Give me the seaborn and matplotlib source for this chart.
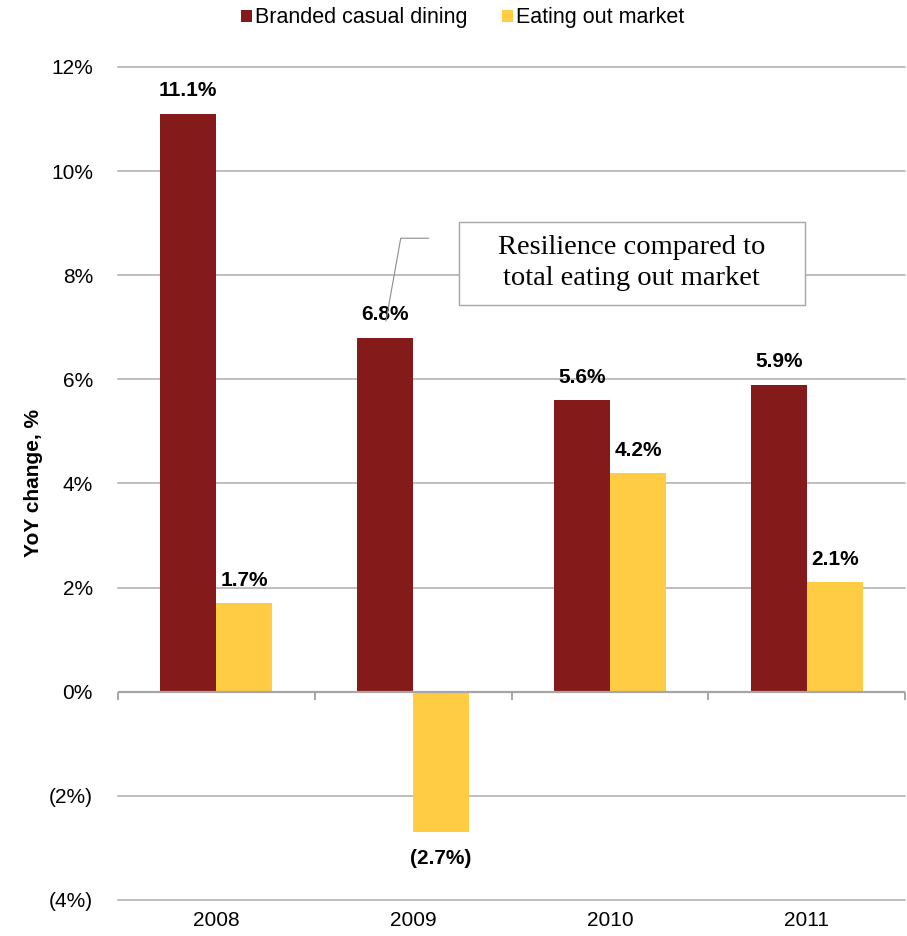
import matplotlib
matplotlib.use("Agg")
import matplotlib.pyplot as plt
from matplotlib.patches import Patch, Rectangle
import seaborn as sns
import pandas as pd

years = ["2008", "2009", "2010", "2011"]
branded = [11.1, 6.8, 5.6, 5.9]
eating_out = [1.7, -2.7, 4.2, 2.1]
series_names = ["Branded casual dining", "Eating out market"]
y_ticks = [-4, -2, 0, 2, 4, 6, 8, 10, 12]
y_tick_labels = ["(4%)", "(2%)", "0%", "2%", "4%", "6%", "8%", "10%", "12%"]

RED = "#841A1A"
YELLOW = "#FFCC44"
GRID = "#BFBFBF"
AXIS = "#A6A6A6"

sns.set_theme(style="white")
plt.rcParams["font.family"] = ["Liberation Sans", "DejaVu Sans"]
plt.rcParams["text.color"] = "black"
plt.rcParams["xtick.color"] = "black"
plt.rcParams["ytick.color"] = "black"
plt.rcParams["axes.labelcolor"] = "black"

df = pd.DataFrame({
    "year": years * 2,
    "value": branded + eating_out,
    "series": [series_names[0]] * len(years) + [series_names[1]] * len(years),
})

fig = plt.figure(figsize=(9.07, 9.36), dpi=100)
ax = fig.add_axes([0.130, 0.0385, 0.868, 0.8900])

sns.barplot(data=df, x="year", y="value", hue="series", order=years,
            hue_order=series_names, palette=[RED, YELLOW], width=0.57,
            gap=0, saturation=1, legend=False, ax=ax, zorder=3,
            linewidth=0, edgecolor="none")

ax.set_ylim(-4, 12)
ax.set_xlim(-0.5, len(years) - 0.5)
ax.set_yticks(y_ticks)
ax.set_yticklabels(y_tick_labels, fontsize=15)
for t in y_ticks:
    if t != 0:
        ax.axhline(t, color=GRID, lw=1.4, zorder=1, clip_on=False)
for s in ax.spines.values():
    s.set_visible(False)
ax.tick_params(axis="y", length=0, pad=18)
ax.tick_params(axis="x", length=0, pad=8, labelsize=15)
ax.set_xlabel("")
ax.set_ylabel("YoY change, %", fontsize=15, fontweight="bold", labelpad=4)

# zero baseline with category separator ticks
ax.axhline(0, color=AXIS, lw=1.6, zorder=4)
ax.vlines([i - 0.5 for i in range(len(years) + 1)], -0.15, 0,
          color=AXIS, lw=1.4, zorder=4, clip_on=False)

# value labels
for container in ax.containers:
    for bar in container:
        h = bar.get_height()
        xc = bar.get_x() + bar.get_width() / 2
        if h >= 0:
            ax.annotate(f"{h:.1f}%", (xc, h), xytext=(0, 16.5),
                        textcoords="offset points", ha="center", va="center",
                        fontsize=15, fontweight="bold")
        else:
            ax.annotate(f"({abs(h):.1f}%)", (xc, h), xytext=(0, -19),
                        textcoords="offset points", ha="center", va="center",
                        fontsize=15, fontweight="bold")

# callout box with leader line
ax.add_patch(Rectangle((1.231, 7.43), 2.992 - 1.231, 9.02 - 7.43, facecolor="white",
                       edgecolor=AXIS, lw=1.0, zorder=5))
ax.text(2.111, 8.23, "Resilience compared to\ntotal eating out market",
        ha="center", va="center", fontsize=20.5,
        family=["Liberation Serif", "DejaVu Serif"], linespacing=1.3, zorder=6)
ax.plot([1.079, 0.937, 0.862], [8.71, 8.71, 7.12], color="#8C8C8C", lw=0.8, zorder=7)

handles = [Patch(facecolor=RED, edgecolor="none"), Patch(facecolor=YELLOW, edgecolor="none")]
fig.legend(handles, series_names, loc="center", bbox_to_anchor=(463 / 907, 1 - 18 / 936),
           ncol=2, frameon=False, fontsize=15.5, handlelength=0.5, handleheight=0.5,
           handletextpad=0.15, columnspacing=1.6)

fig.savefig("out.png", dpi=100)
